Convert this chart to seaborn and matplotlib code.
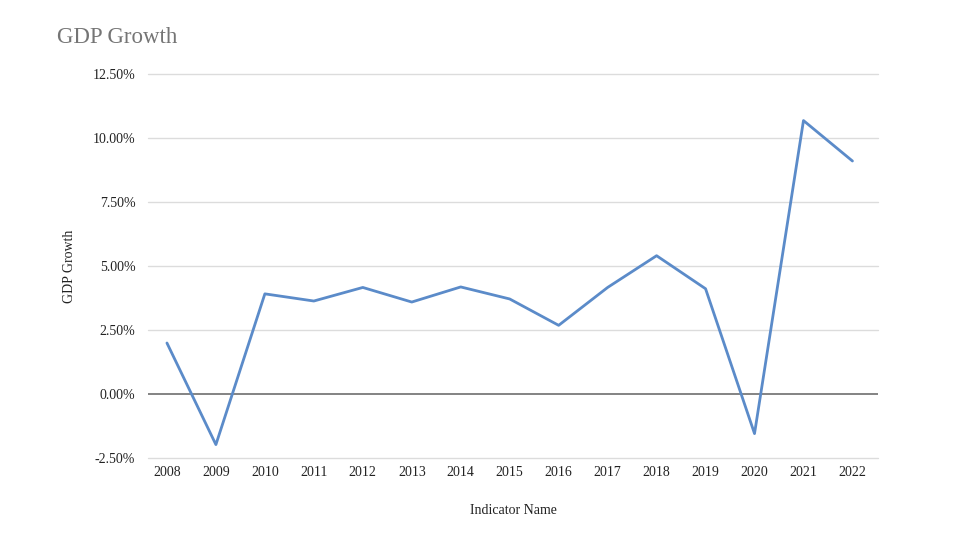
import matplotlib
matplotlib.use("Agg")
import matplotlib.pyplot as plt
import pandas as pd
import seaborn as sns
from matplotlib.ticker import FuncFormatter

# GDP growth by year (in percent)
years = ["2008", "2009", "2010", "2011", "2012", "2013", "2014", "2015",
         "2016", "2017", "2018", "2019", "2020", "2021", "2022"]
growth = [1.99, -1.98, 3.91, 3.63, 4.16, 3.59, 4.18, 3.71,
          2.68, 4.16, 5.40, 4.11, -1.55, 10.68, 9.10]
y_ticks = [-2.5, 0, 2.5, 5, 7.5, 10, 12.5]

df = pd.DataFrame({"year": years, "growth": growth})

sns.set_theme(style="white")
plt.rcParams["font.family"] = ["Liberation Serif", "DejaVu Serif"]

fig = plt.figure(figsize=(9.6, 5.4), dpi=100)
ax = fig.add_axes([0.154, 0.152, 0.761, 0.711])

sns.lineplot(data=df, x="year", y="growth", ax=ax, color="#5b8bc9",
             linewidth=2, sort=False)

ax.set_ylim(-2.5, 12.5)
ax.set_xlim(-0.39, len(years) - 0.47)
ax.set_yticks(y_ticks)
ax.yaxis.set_major_formatter(FuncFormatter(lambda v, p: f"{v:.2f}%"))
for t in y_ticks:
    if t == 0:
        ax.axhline(t, color="#7a7a7a", linewidth=1.3, zorder=1)
    else:
        ax.axhline(t, color="#dcdcdc", linewidth=1, zorder=0, clip_on=False)

for s in ax.spines.values():
    s.set_visible(False)
ax.tick_params(axis="both", length=0, labelsize=10, colors="#222222")
ax.tick_params(axis="y", pad=9)
ax.tick_params(axis="x", pad=6)

ax.set_xlabel("Indicator Name", fontsize=10, color="#222222", labelpad=18)
ax.set_ylabel("GDP Growth", fontsize=10, color="#222222", labelpad=12)

fig.text(0.059, 0.93, "GDP Growth", fontsize=16.5, color="#757575", va="center")

fig.savefig("out.png", dpi=100)
